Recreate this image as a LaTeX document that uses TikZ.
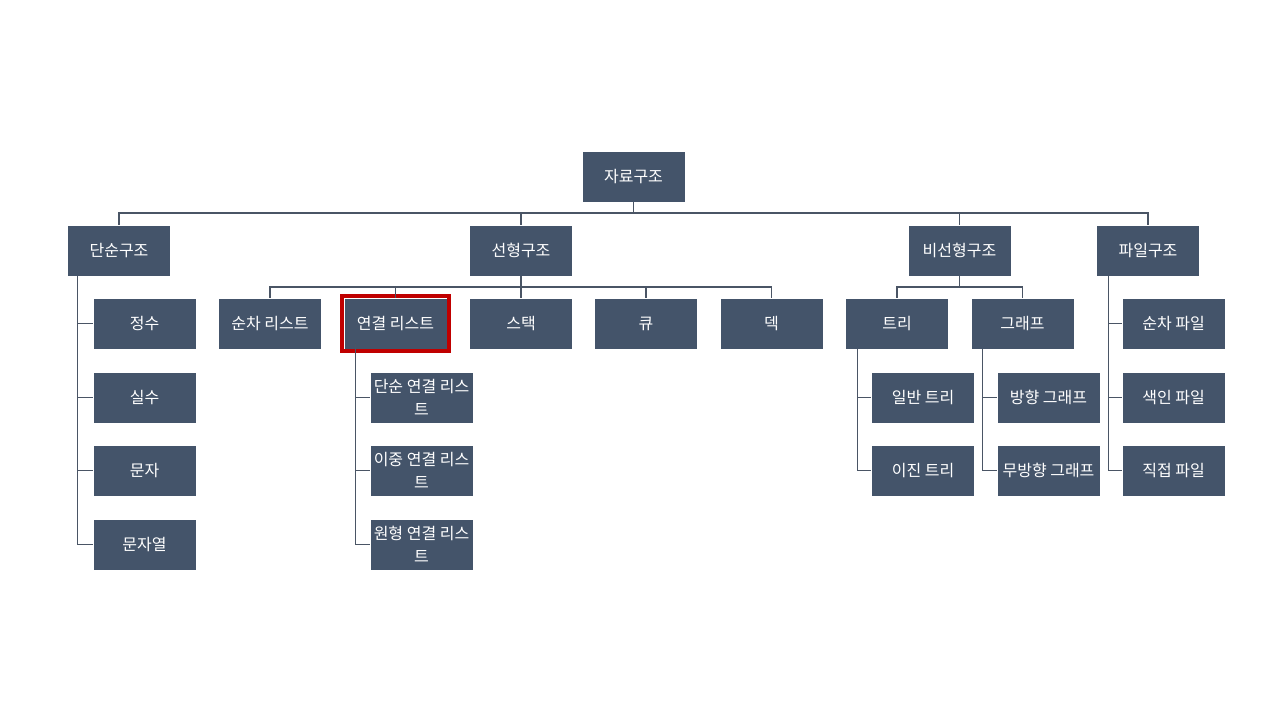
\documentclass[tikz,border=0pt]{standalone}
\usepackage{fontspec}
\setmainfont{Noto Sans CJK KR}
\definecolor{boxc}{HTML}{44546A}
\definecolor{linec}{HTML}{4A5565}
\definecolor{hl}{HTML}{C00000}
\begin{document}
\begin{tikzpicture}[x=0.75pt,y=-0.75pt,
  box/.style={rectangle,fill=boxc,draw=white,line width=0.4pt,text=white,minimum width=77.25pt,minimum height=38.25pt,inner sep=1pt,align=center,font=\fontsize{12}{17}\selectfont},
  conn/.style={draw=linec,line width=0.8pt}]
\useasboundingbox (0,0) rectangle (1280,720);
% root and level 1
\node[box] (root) at (633.5,176.5) {자료구조};
\node[box] (dan) at (119,250.5) {단순구조};
\node[box] (sun) at (521,250.5) {선형구조};
\node[box] (bis) at (959.5,250.5) {비선형구조};
\node[box] (fil) at (1148,250.5) {파일구조};
% level 2
\node[box] (jeong) at (144.5,323.5) {정수};
\node[box] (sunl) at (270,323.5) {순차 리스트};
\node[box] (yeon) at (395.5,323.5) {연결 리스트};
\node[box] (stack) at (521,323.5) {스택};
\node[box] (queue) at (646,323.5) {큐};
\node[box] (deque) at (771.5,323.5) {덱};
\node[box] (tree) at (897,323.5) {트리};
\node[box] (graph) at (1022.5,323.5) {그래프};
\node[box] (sfile) at (1173.5,323.5) {순차 파일};
% level 3
\node[box] (silsu) at (144.5,397.5) {실수};
\node[box] (dl) at (421.5,397.5) {단순 연결 리스\\트};
\node[box] (gtree) at (923,397.5) {일반 트리};
\node[box] (dgraph) at (1048.5,397.5) {방향 그래프};
\node[box] (ifile) at (1173.5,397.5) {색인 파일};
% level 4
\node[box] (munja) at (144.5,470.5) {문자};
\node[box] (il) at (421.5,470.5) {이중 연결 리스\\트};
\node[box] (btree) at (923,470.5) {이진 트리};
\node[box] (ugraph) at (1048.5,470.5) {무방향 그래프};
\node[box] (efile) at (1173.5,470.5) {직접 파일};
% level 5
\node[box] (munjay) at (144.5,544.5) {문자열};
\node[box] (wl) at (421.5,544.5) {원형 연결 리스\\트};
% highlight
\draw[hl,line width=3pt] ([shift={(-2,-2)}]yeon.north west) rectangle ([shift={(2,2)}]yeon.south east);
% connectors top bus
\coordinate (bus1) at (633.5,213);
\draw[conn] (root.south) -- (bus1);
\draw[conn] (dan.north) -- (dan.north |- bus1) -- (fil.north |- bus1) -- (fil.north);
\draw[conn] (sun.north) -- (sun.north |- bus1);
\draw[conn] (bis.north) -- (bis.north |- bus1);
% linear bus
\coordinate (bus2) at (521,287);
\draw[conn] (sun.south) -- (bus2);
\draw[conn] (sunl.north) -- (sunl.north |- bus2) -- (deque.north |- bus2) -- (deque.north);
\draw[conn] (yeon.north) -- (yeon.north |- bus2);
\draw[conn] (stack.north) -- (stack.north |- bus2);
\draw[conn] (queue.north) -- (queue.north |- bus2);
% nonlinear bus
\coordinate (bus3) at (959.5,287);
\draw[conn] (bis.south) -- (bus3);
\draw[conn] (tree.north) -- (tree.north |- bus3) -- (graph.north |- bus3) -- (graph.north);
% spines
\coordinate (sp1) at ([xshift=8]dan.south west);
\draw[conn] (sp1) |- (jeong.west); \draw[conn] (sp1) |- (silsu.west);
\draw[conn] (sp1) |- (munja.west); \draw[conn] (sp1) |- (munjay.west);
\coordinate (sp2) at ([xshift=9,yshift=4]yeon.south west);
\draw[conn] (sp2) |- (dl.west); \draw[conn] (sp2) |- (il.west); \draw[conn] (sp2) |- (wl.west);
\coordinate (sp3) at ([xshift=9]tree.south west);
\draw[conn] (sp3) |- (gtree.west); \draw[conn] (sp3) |- (btree.west);
\coordinate (sp4) at ([xshift=9]graph.south west);
\draw[conn] (sp4) |- (dgraph.west); \draw[conn] (sp4) |- (ugraph.west);
\coordinate (sp5) at ([xshift=9]fil.south west);
\draw[conn] (sp5) |- (sfile.west); \draw[conn] (sp5) |- (ifile.west); \draw[conn] (sp5) |- (efile.west);
\end{tikzpicture}
\end{document}
